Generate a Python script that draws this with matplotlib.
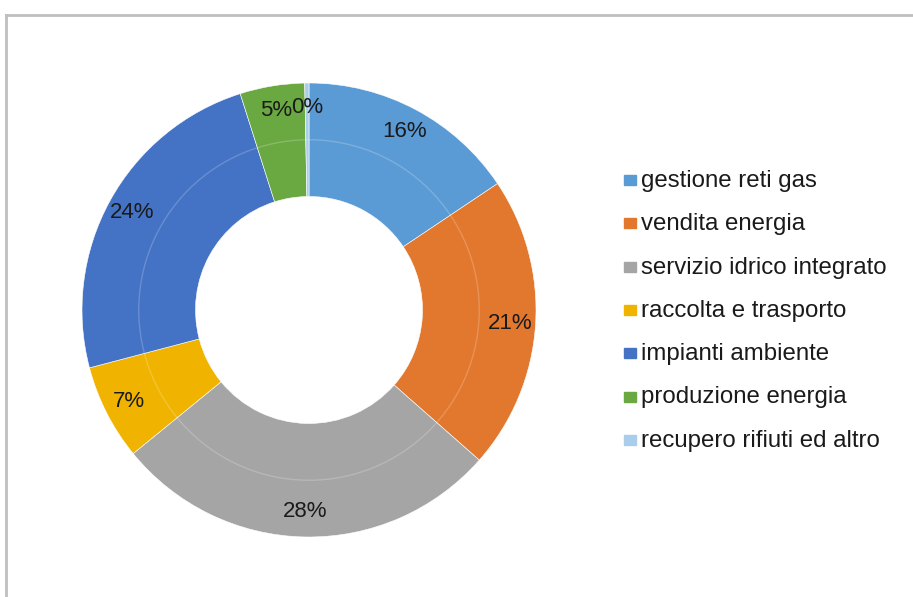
import matplotlib.pyplot as plt
from matplotlib.patches import Rectangle, Circle
from matplotlib.lines import Line2D

plt.rcParams['font.family'] = ['Liberation Sans', 'DejaVu Sans']

# data (shares in %)
categories = ['gestione reti gas', 'vendita energia', 'servizio idrico integrato',
              'raccolta e trasporto', 'impianti ambiente', 'produzione energia',
              'recupero rifiuti ed altro']
shares = [15.6, 20.9, 27.6, 6.8, 24.2, 4.6, 0.3]
colors = ['#5B9BD5', '#E2772E', '#A5A5A5', '#F0B400', '#4472C4', '#6AA842', '#A9CDEB']

W, H = 913, 597
fig = plt.figure(figsize=(W / 100, H / 100), dpi=100)

# donut: centre ~(309,310) px, outer radius ~227 px
cx, cy, R = 309, 310, 227
ax = fig.add_axes([(cx - R) / W, (H - cy - R) / H, 2 * R / W, 2 * R / H])
wedges, texts, autotexts = ax.pie(shares, colors=colors, startangle=90, counterclock=False,
                                  radius=1, autopct='%1.0f%%', pctdistance=0.89,
                                  wedgeprops=dict(width=0.5, edgecolor='white', linewidth=0.4),
                                  textprops=dict(fontsize=16, color='#1a1a1a'))
ax.add_patch(Circle((0, 0), 0.75, fill=False, edgecolor='white', alpha=0.2, lw=1))
ax.set_xlim(-1, 1)
ax.set_ylim(-1, 1)
ax.set_aspect('equal')
ax.axis('off')

# legend drawn by hand to match the spacing
for i, (lab, col) in enumerate(zip(categories, colors)):
    y = 180 + i * 43.3
    fig.patches.append(Rectangle((624 / W, (H - y - 5) / H), 12 / W, 10 / H,
                                 transform=fig.transFigure, color=col))
    fig.text(641 / W, (H - y - 7) / H, lab, fontsize=17.3, color='#1a1a1a',
             va='baseline', ha='left')

# chart frame (top and left edges visible)
fig.add_artist(Line2D([6 / W, 1], [(H - 15) / H] * 2, transform=fig.transFigure,
                      color='#BFBFBF', lw=2))
fig.add_artist(Line2D([6 / W] * 2, [0, (H - 15) / H], transform=fig.transFigure,
                      color='#BFBFBF', lw=2))

fig.savefig('out.png', dpi=100)
